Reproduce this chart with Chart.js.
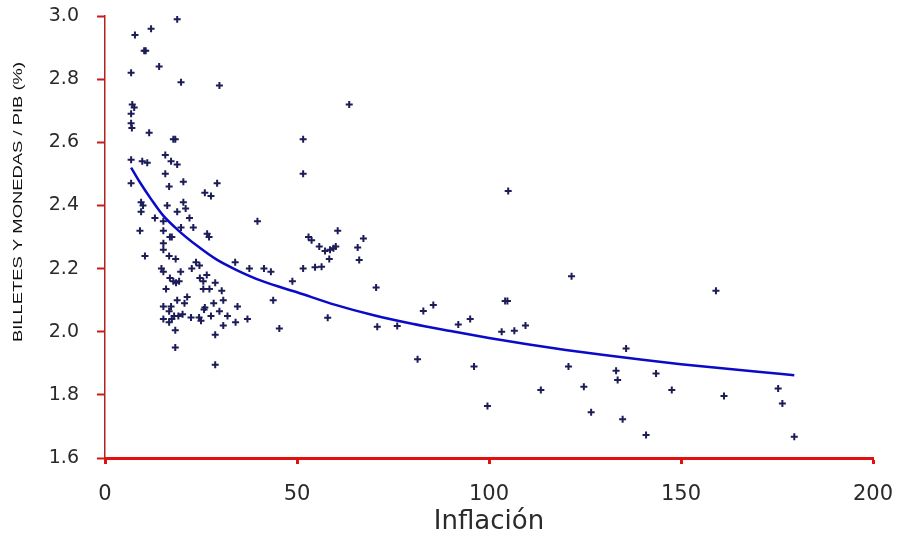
<!DOCTYPE html>
<html>
<head>
<meta charset="utf-8">
<script src="https://cdn.jsdelivr.net/npm/chart.js@4"></script>
<style>
  html, body { margin: 0; padding: 0; background: #fff; }
  #wrap { width: 897px; height: 536px; }
</style>
</head>
<body>
<div id="wrap"><canvas id="myChart" width="897" height="536"></canvas></div>
<script>
// inflation (%) of each observation
const inflation = [
    18.8, 7.8, 12.0, 10.2, 10.6, 14.1, 6.8, 19.8, 29.8, 7.1,
    7.6, 6.8, 6.8, 7.0, 11.5, 17.8, 18.3, 51.6, 51.6, 6.8,
    9.7, 11.0, 15.7, 17.2, 18.8, 15.7, 16.7, 20.4, 29.2, 6.8,
    26.0, 27.6, 9.4, 9.4, 9.9, 16.2, 20.4, 18.8, 21.0, 13.0,
    22.0, 39.7, 9.1, 15.2, 15.2, 16.9, 17.4, 19.8, 23.0, 26.6,
    27.1, 53.0, 15.2, 15.2, 10.4, 16.7, 18.4, 14.7, 15.2, 19.7,
    22.6, 23.7, 24.6, 16.9, 17.8, 19.3, 18.5, 24.7, 26.5, 25.6,
    28.7, 15.9, 25.6, 27.2, 30.4, 21.4, 18.8, 20.7, 15.2, 17.2,
    16.7, 26.0, 25.8, 28.3, 30.8, 34.5, 29.8, 27.6, 31.9, 18.0,
    19.1, 20.2, 15.2, 16.7, 17.4, 22.4, 24.5, 25.0, 34.0, 37.1,
    30.8, 18.3, 28.7, 45.4, 18.3, 28.7, 33.9, 37.6, 41.4, 43.2,
    43.8, 48.8, 51.6, 63.6, 105.0, 53.8, 60.6, 67.3, 55.8, 57.3,
    58.6, 59.5, 60.1, 65.8, 58.4, 66.2, 54.7, 56.4, 70.6, 58.0,
    70.9, 76.1, 82.9, 85.5, 92.0, 95.1, 104.2, 104.8, 103.3, 81.4,
    96.1, 99.6, 106.6, 109.5, 113.5, 120.7, 124.7, 126.6, 133.1, 133.5,
    121.5, 159.1, 135.7, 143.5, 147.6, 134.8, 140.9, 161.2, 175.3, 176.4,
    179.5
];

// billetes y monedas / PIB (%) of each observation
const currencyGdp = [
    2.99, 2.94, 2.96, 2.89, 2.89, 2.84, 2.82, 2.79, 2.78, 2.72,
    2.71, 2.69, 2.66, 2.645, 2.63, 2.61, 2.61, 2.61, 2.50, 2.545,
    2.54, 2.535, 2.56, 2.54, 2.53, 2.50, 2.46, 2.475, 2.47, 2.47,
    2.44, 2.43, 2.41, 2.38, 2.40, 2.40, 2.41, 2.38, 2.39, 2.36,
    2.36, 2.35, 2.32, 2.35, 2.32, 2.30, 2.30, 2.33, 2.33, 2.31,
    2.30, 2.30, 2.28, 2.26, 2.24, 2.24, 2.23, 2.20, 2.19, 2.19,
    2.20, 2.22, 2.21, 2.17, 2.16, 2.16, 2.155, 2.17, 2.18, 2.16,
    2.155, 2.135, 2.135, 2.135, 2.13, 2.11, 2.10, 2.09, 2.08, 2.08,
    2.065, 2.077, 2.07, 2.09, 2.10, 2.08, 2.065, 2.05, 2.05, 2.05,
    2.05, 2.055, 2.04, 2.03, 2.04, 2.045, 2.045, 2.035, 2.03, 2.04,
    2.02, 2.005, 1.99, 2.01, 1.95, 1.895, 2.22, 2.20, 2.20, 2.19,
    2.10, 2.16, 2.20, 2.72, 2.446, 2.29, 2.32, 2.295, 2.27, 2.256,
    2.26, 2.264, 2.27, 2.267, 2.23, 2.227, 2.204, 2.206, 2.14, 2.044,
    2.016, 2.018, 2.066, 2.085, 2.023, 2.04, 2.097, 2.097, 2.00, 1.913,
    1.89, 1.765, 2.003, 2.02, 1.815, 1.89, 1.826, 1.745, 1.876, 1.847,
    2.176, 2.13, 1.947, 1.868, 1.815, 1.723, 1.673, 1.796, 1.82, 1.773,
    1.667
];

// trend curve
const trendX = [6.8, 9, 12, 15, 19, 24, 29, 34, 41, 50, 60, 70, 80, 90, 100, 110, 120, 130, 140, 150, 160, 170, 179.5];
const trendY = [2.52, 2.475, 2.42, 2.37, 2.322, 2.272, 2.229, 2.197, 2.16, 2.125, 2.085, 2.052, 2.025, 2.002, 1.98, 1.96, 1.942, 1.926, 1.911, 1.897, 1.885, 1.873, 1.862];

const xTicks = [0, 50, 100, 150, 200];
const yTicks = [1.6, 1.8, 2.0, 2.2, 2.4, 2.6, 2.8, 3.0];

const yTitle = 'BILLETES Y MONEDAS / PIB (%)';

const points = inflation.map((x, i) => ({ x: x, y: currencyGdp[i] }));
const trend = trendX.map((x, i) => ({ x: x, y: trendY[i] }));

// the y title in the picture sits above centre and is drawn tall and thin
const yTitlePlugin = {
    id: 'yTitle',
    afterDraw(chart) {
        const ctx = chart.ctx;
        ctx.save();
        ctx.font = '13px "Liberation Sans", Arial, sans-serif';
        ctx.fillStyle = '#111';
        ctx.textAlign = 'center';
        ctx.textBaseline = 'middle';
        const w = ctx.measureText(yTitle).width;
        ctx.translate(18, 202);
        ctx.rotate(-Math.PI / 2);
        ctx.scale(280 / w, 1);
        ctx.fillText(yTitle, 0, 0);
        ctx.restore();
    }
};

const canvas = document.getElementById('myChart');
new Chart(canvas, {
    type: 'scatter',
    data: {
        datasets: [{
            label: 'Observaciones',
            data: points,
            pointStyle: 'cross',
            pointRadius: 3.5,
            pointBorderWidth: 2,
            borderColor: '#1c1c58',
            backgroundColor: '#1c1c58',
            order: 2
        }, {
            label: 'Tendencia',
            data: trend,
            showLine: true,
            pointRadius: 0,
            borderColor: '#0a0ac8',
            borderWidth: 2.5,
            cubicInterpolationMode: 'monotone',
            order: 1
        }]
    },
    options: {
        responsive: false,
        animation: false,
        layout: {
            padding: { top: 16, right: 24, left: 0, bottom: 0 }
        },
        plugins: {
            legend: { display: false },
            tooltip: { enabled: false }
        },
        scales: {
            x: {
                type: 'linear',
                min: 0,
                max: 200,
                afterBuildTicks: scale => {
                    scale.ticks = xTicks.map(v => ({ value: v }));
                },
                afterFit: scale => {
                    scale.height = 78;
                    scale.paddingLeft = 0;
                    scale.paddingRight = 0;
                },
                border: { color: '#e41010', width: 3 },
                grid: {
                    drawOnChartArea: false,
                    color: '#e41010',
                    tickLength: 6,
                    tickWidth: 3
                },
                ticks: {
                    color: '#2a2a2a',
                    padding: 18,
                    maxRotation: 0,
                    font: { family: '"DejaVu Sans", sans-serif', size: 21 }
                },
                title: {
                    display: true,
                    text: 'Inflación',
                    color: '#2a2a2a',
                    padding: { top: 0, bottom: -2 },
                    font: { family: '"DejaVu Sans", sans-serif', size: 26 }
                }
            },
            y: {
                type: 'linear',
                min: 1.6,
                max: 3.0,
                afterBuildTicks: scale => {
                    scale.ticks = yTicks.map(v => ({ value: v }));
                },
                afterFit: scale => {
                    scale.width = 105;
                    scale.paddingTop = 0;
                    scale.paddingBottom = 0;
                },
                border: { color: '#b52222', width: 1.5 },
                grid: {
                    drawOnChartArea: false,
                    color: '#c81a1a',
                    tickLength: 8,
                    tickWidth: 2
                },
                ticks: {
                    color: '#2a2a2a',
                    padding: 18,
                    callback: v => v.toFixed(1),
                    font: { family: '"DejaVu Sans", sans-serif', size: 19 }
                }
            }
        }
    },
    plugins: [yTitlePlugin]
});
</script>
</body>
</html>
